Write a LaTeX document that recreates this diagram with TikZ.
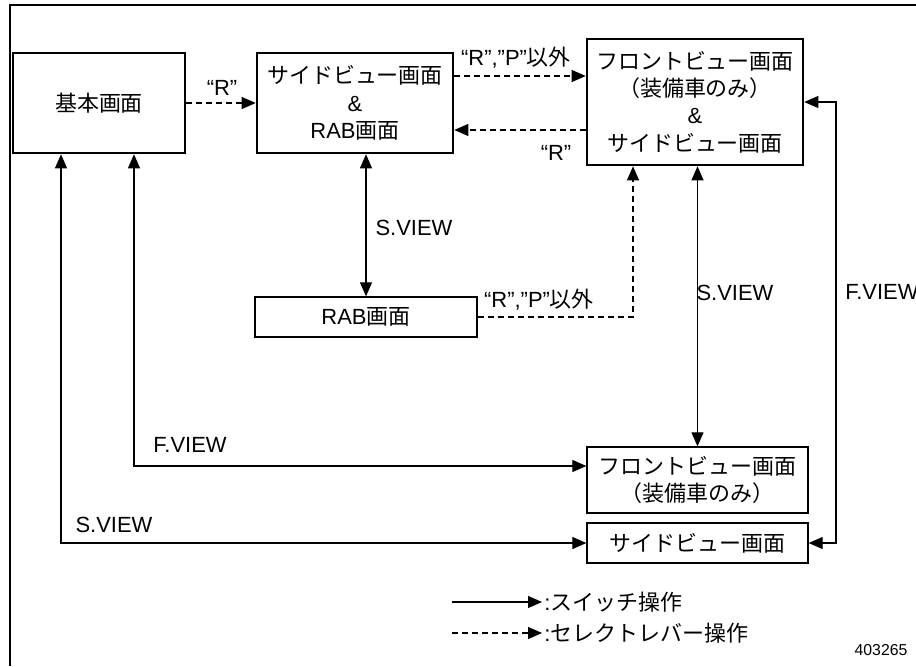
\documentclass[tikz,border=0pt]{standalone}
\usepackage{fontspec}
\setmainfont{Liberation Sans}
\newfontfamily\jpfont{Noto Sans CJK JP}
\newcommand{\jp}[1]{{\jpfont #1}}
\usetikzlibrary{
    calc,
    positioning,
    arrows.meta
}
\tikzset{
  >={Triangle[length=0.28cm,width=0.24cm]},
  bigbox/.style={draw, line width=1.5pt, align=center, inner sep=0pt},
  smallbox/.style={draw, line width=0.75pt, align=center, inner sep=0pt},
  sw/.style={line width=0.6pt, ->},
  dbl/.style={line width=0.6pt, <->},
  sel/.style={sw, dash pattern=on 3.4pt off 2.3pt},
  lbl/.style={inner sep=0pt}
}

\begin{document}
\begin{tikzpicture}[x=0.02cm,y=-0.02cm,font=\fontsize{12.5}{15.6}\selectfont]
\useasboundingbox (0,0) rectangle (916,666);
\draw[line width=1.5pt] (10,666) -- (10,5) -- (916,5);

% screens
\node[bigbox, minimum width=3.44cm, minimum height=2cm] (base) at (99,103) {\jp{基本画面}};
\node[bigbox, minimum width=3.92cm, minimum height=2cm] (sidrab) at (355,103)
  {\jp{サイドビュー画面}\\\&\\RAB\jp{画面}};
\node[bigbox, minimum width=4.32cm, minimum height=2.52cm] (front) at (695,102)
  {\jp{フロントビュー画面}\\\jp{（装備車のみ）}\\\&\\\jp{サイドビュー画面}};
\node[smallbox, minimum width=4.44cm, minimum height=0.8cm] (rab) at (366,317) {RAB\jp{画面}};
\node[smallbox, minimum width=4.42cm, minimum height=1.32cm] (fonly) at (697.5,480)
  {\jp{フロントビュー画面}\\\jp{（装備車のみ）}};
\node[smallbox, minimum width=4.42cm, minimum height=0.8cm] (sonly) at (697.5,543) {\jp{サイドビュー画面}};

% helper points
\coordinate (sr1) at ([yshift=0.54cm]sidrab.east);
\coordinate (sr2) at ([yshift=-0.54cm]sidrab.east);
\coordinate (fs) at ([xshift=-1.24cm]front.south);
\coordinate (fv) at (836,300);
\coordinate (bf) at ([xshift=0.7cm]base.south);
\coordinate (bs) at ([xshift=-0.76cm]base.south);
\coordinate (ff) at ([yshift=0.28cm]fonly.west);

% select lever
\draw[sel] (base.east) -- (base.east -| sidrab.west);
\draw[sel] (sr1) -- (sr1 -| front.west);
\draw[sel] (sr2 -| front.west) -- (sr2);
\draw[sel] (rab.east) -| (fs);

% switches
\draw[dbl] (rab.north |- sidrab.south) -- (rab.north);
\draw[dbl] (fonly.north |- front.south) -- (fonly.north);
\draw[dbl] (front.east) -- (front.east -| fv) -- (fv |- sonly.east) -- (sonly.east);
\draw[dbl] (bf) |- (ff);
\draw[dbl] (bs) |- (sonly.west);

% labels
\node[lbl] (r1) at (222,88) {“R”};
\node[lbl] (rp1) at (516,58) {“R”,”P”\jp{以外}};
\node[lbl] (r2) at (556,153) {“R”};
\node[lbl] (rp2) at (539,300) {“R”,”P”\jp{以外}};
\node[lbl] (sv1) at (414,228) {S.VIEW};
\node[lbl] (sv2) at (735,293) {S.VIEW};
\node[lbl, anchor=west] (fv1) at (845,292) {F.VIEW};
\node[lbl] (fv2) at (190,445) {F.VIEW};
\node[lbl] (sv3) at (114,525) {S.VIEW};

% legend
\coordinate (l1) at (452,602);
\coordinate (l2) at (452,633);
\draw[sw] (l1) -- ++(90,0) node[lbl, anchor=west, xshift=1pt] (lsw) {:\jp{スイッチ操作}};
\draw[sel] (l2) -- ++(90,0) node[lbl, anchor=west, xshift=1pt] (lsel) {:\jp{セレクトレバー操作}};

\node[lbl, font=\fontsize{9}{10}\selectfont] (num) at (881,650) {403265};
\end{tikzpicture}
\end{document}
